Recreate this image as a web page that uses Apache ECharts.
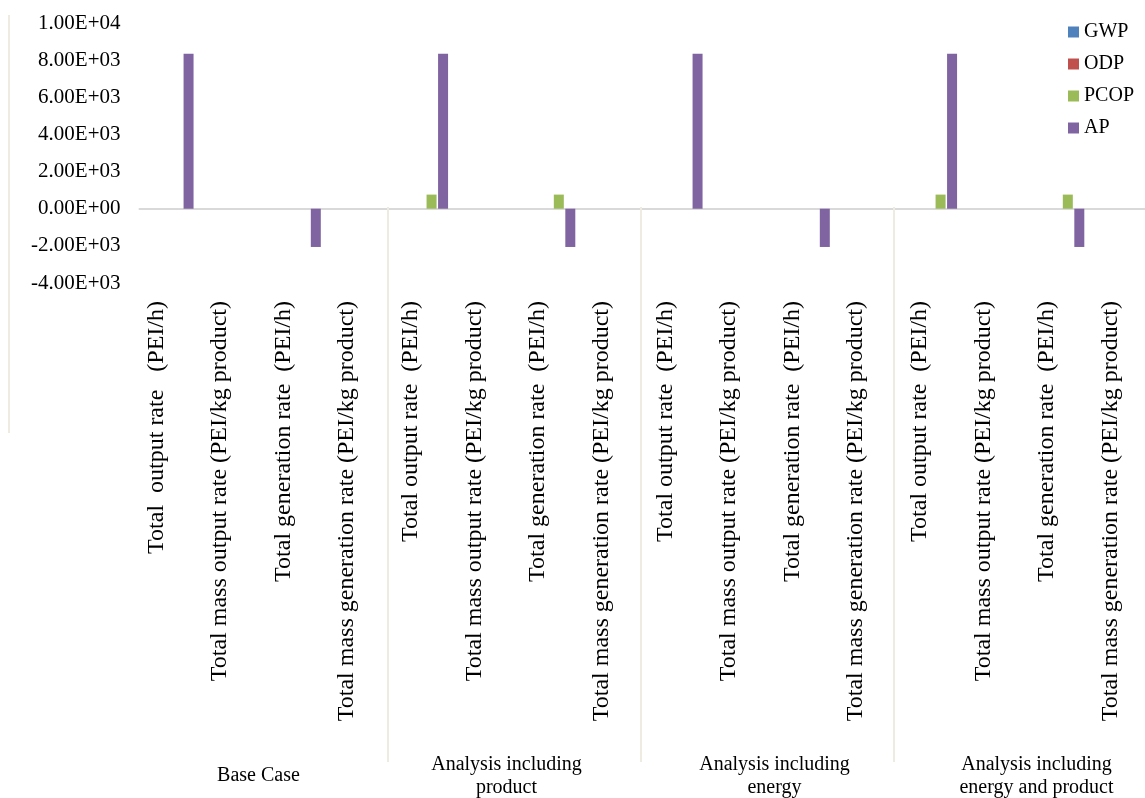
<!DOCTYPE html>
<html>
<head>
<meta charset="utf-8">
<title>Potential environmental impact indicators</title>
<script src="https://cdn.jsdelivr.net/npm/echarts@6/dist/echarts.min.js"></script>
<style>
  html, body { margin: 0; padding: 0; background: #ffffff; }
  #chart { width: 1145px; height: 798px; }
</style>
</head>
<body>
<div id="chart"></div>
<script>
// Scenario groups (lower category level)
const groups = [
  'Base Case',
  'Analysis including\nproduct',
  'Analysis including\nenergy',
  'Analysis including\nenergy and product'
];

// Rate indicators (upper category level), four per scenario
const categories = [
  'Total  output rate   (PEI/h)', 'Total mass output rate (PEI/kg product)', 'Total generation rate  (PEI/h)', 'Total mass generation rate (PEI/kg product)',
  'Total output rate  (PEI/h)', 'Total mass output rate (PEI/kg product)', 'Total generation rate  (PEI/h)', 'Total mass generation rate (PEI/kg product)',
  'Total output rate  (PEI/h)', 'Total mass output rate (PEI/kg product)', 'Total generation rate  (PEI/h)', 'Total mass generation rate (PEI/kg product)',
  'Total output rate  (PEI/h)', 'Total mass output rate (PEI/kg product)', 'Total generation rate  (PEI/h)', 'Total mass generation rate (PEI/kg product)'
];

// Impact category values
const gwp  = [0, 0, 0, 0,   0, 0, 0, 0,   0, 0, 0, 0,   0, 0, 0, 0];
const odp  = [0, 0, 0, 0,   0, 0, 0, 0,   0, 0, 0, 0,   0, 0, 0, 0];
const pcop = [0, 0, 0, 0,   760, 0, 760, 0,   0, 0, 0, 0,   760, 0, 760, 0];
const ap   = [8350, 0, -2060, 0,   8350, 0, -2060, 0,   8350, 0, -2060, 0,   8350, 0, -2060, 0];

const seriesNames = ['GWP', 'ODP', 'PCOP', 'AP'];
const seriesColors = ['#4f81bd', '#c0504d', '#9bbb59', '#8064a2'];

// Y axis range and step
const yMin = -4000;
const yMax = 10000;
const yStep = 2000;

const FONT = "'Liberation Serif', 'Times New Roman', serif";

// 1.00E+04 style tick labels
function sciLabel(v) {
  if (v === 0) return '0.00E+00';
  const s = v.toExponential(2);
  const parts = s.split('e');
  let exp = parseInt(parts[1], 10);
  const sign = exp < 0 ? '-' : '+';
  exp = Math.abs(exp);
  return parts[0] + 'E' + sign + (exp < 10 ? '0' + exp : String(exp));
}

// Group captions sit slightly off-centre within their spans
const groupTextBase = { fontFamily: FONT, fontSize: 20, color: '#000000', lineHeight: 23 };
const groupRich = {
  g0: Object.assign({ padding: [0, 6, 0, 0] }, groupTextBase),
  g1: Object.assign({ padding: [0, 16, 0, 0] }, groupTextBase),
  g2: Object.assign({ padding: [0, 0, 0, 14] }, groupTextBase),
  g3: Object.assign({ padding: [0, 0, 0, 32] }, groupTextBase)
};
function groupLabel(value, index) {
  return value.split('\n').map(function (line) {
    return '{g' + index + '|' + line + '}';
  }).join('\n');
}

const chart = echarts.init(document.getElementById('chart'), null, { renderer: 'canvas' });

const values = [gwp, odp, pcop, ap];

const option = {
  backgroundColor: '#ffffff',
  animation: false,
  textStyle: { fontFamily: FONT, color: '#000000' },
  legend: {
    orient: 'vertical',
    left: 1068,
    top: 22,
    padding: 0,
    itemWidth: 11,
    itemHeight: 11,
    itemGap: 12,
    icon: 'rect',
    data: seriesNames,
    textStyle: { fontFamily: FONT, fontSize: 20, color: '#000000' }
  },
  graphic: [
    {
      type: 'line',
      shape: { x1: 9, y1: 15, x2: 9, y2: 433 },
      style: { stroke: '#eeebe1', lineWidth: 2 },
      silent: true
    }
  ],
  grid: [
    { left: 139.5, width: 1018, top: 23, bottom: 515, containLabel: false, outerBoundsMode: 'none' },
    { left: 135, width: 1012, top: 206, height: 1, containLabel: false, outerBoundsMode: 'none' }
  ],
  xAxis: [
    {
      type: 'category',
      gridIndex: 0,
      data: categories,
      axisLine: { show: true, onZero: true, lineStyle: { color: '#d9d9d9', width: 2 } },
      axisTick: { show: false },
      axisLabel: {
        interval: 0,
        rotate: 90,
        margin: 18,
        fontFamily: FONT,
        fontSize: 24,
        color: '#000000',
        verticalAlign: 'bottom',
        lineHeight: 30
      },
      splitLine: { show: false }
    },
    {
      type: 'category',
      gridIndex: 1,
      position: 'bottom',
      data: groups,
      axisLine: { show: false },
      axisTick: {
        show: true,
        interval: function (idx) { return idx > 0; },
        length: 555,
        lineStyle: { color: '#eeebe1', width: 2 }
      },
      axisLabel: {
        interval: 0,
        margin: 569,
        verticalAlign: 'middle',
        lineHeight: 23,
        fontFamily: FONT,
        fontSize: 20,
        color: '#000000',
        formatter: groupLabel,
        rich: groupRich
      },
      splitLine: { show: false }
    }
  ],
  yAxis: [
    {
      type: 'value',
      gridIndex: 0,
      min: yMin,
      max: yMax,
      interval: yStep,
      axisLine: { show: false },
      axisTick: { show: false },
      splitLine: { show: false },
      axisLabel: {
        margin: 19,
        fontFamily: FONT,
        fontSize: 21,
        color: '#000000',
        formatter: sciLabel
      }
    },
    {
      type: 'value',
      gridIndex: 1,
      show: false,
      min: 0,
      max: 1
    }
  ],
  series: seriesNames.map(function (name, i) {
    return {
      name: name,
      type: 'bar',
      xAxisIndex: 0,
      yAxisIndex: 0,
      data: values[i],
      barWidth: 10,
      barGap: '15%',
      itemStyle: { color: seriesColors[i] }
    };
  })
};

chart.setOption(option);
</script>
</body>
</html>
